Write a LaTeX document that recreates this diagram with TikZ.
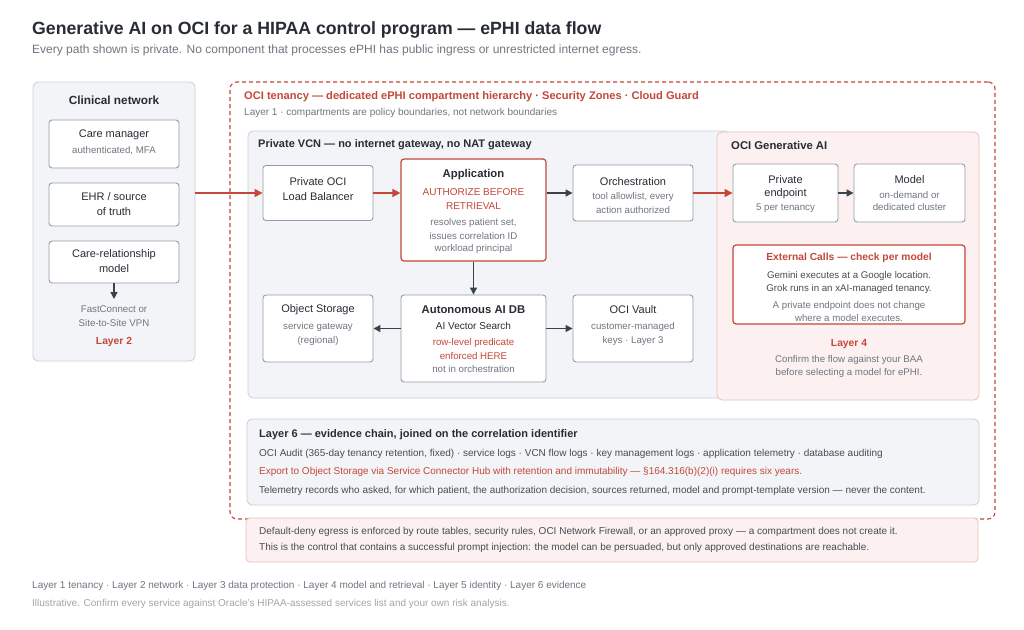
\documentclass[tikz,border=0pt]{standalone}
\usepackage{fontspec}
\setmainfont{Liberation Sans}
\usetikzlibrary{arrows.meta}
\definecolor{cred}{RGB}{196,72,58}
\definecolor{tdark}{RGB}{40,44,52}
\definecolor{tgray}{RGB}{112,118,128}
\definecolor{tlight}{RGB}{160,166,174}
\definecolor{boxc}{RGB}{150,156,166}
\definecolor{panelf}{RGB}{242,244,247}
\definecolor{panelb}{RGB}{202,207,214}
\definecolor{aif}{RGB}{252,241,240}
\definecolor{aib}{RGB}{234,192,186}
\definecolor{darr}{RGB}{58,66,78}
\begin{document}
\begin{tikzpicture}[x=1pt,y=-1pt,
  box/.style={draw=boxc, fill=white, rounded corners=3, line width=0.9, inner sep=0},
  redbox/.style={draw=cred, fill=white, rounded corners=3, line width=1.2, inner sep=0},
  panel/.style={draw=panelb, fill=panelf, rounded corners=5, line width=0.8, inner sep=0},
  aipanel/.style={draw=aib, fill=aif, rounded corners=5, line width=0.8, inner sep=0},
  tm/.style={font=\fontsize{11}{13}\selectfont, text=tdark, inner sep=0},
  ts/.style={font=\fontsize{9.7}{11}\selectfont, text=tgray, inner sep=0},
  tl/.style={font=\fontsize{10}{12}\selectfont, text=tgray, inner sep=0},
  tsr/.style={font=\fontsize{9.7}{11}\selectfont, text=cred, inner sep=0},
  tb/.style={font=\bfseries\fontsize{11.3}{13}\selectfont, text=tdark, inner sep=0},
  tbr/.style={font=\bfseries\fontsize{10.3}{12}\selectfont, text=cred, inner sep=0},
  rarrow/.style={draw=cred, line width=1.5, -{Triangle[length=8,width=8]}},
  darrow/.style={draw=darr, line width=1.3, -{Triangle[length=7,width=7]}},
  lft/.style={anchor=west}
]
\useasboundingbox[fill=white] (0,0) rectangle (1024,629);

% title
\node[lft, font=\bfseries\fontsize{17.7}{20}\selectfont, text=tdark, inner sep=0] (title) at (32,30) {Generative AI on OCI for a HIPAA control program — ePHI data flow};
\node[lft, font=\fontsize{12}{14}\selectfont, text=tgray, inner sep=0] (subtitle) at (32,50) {Every path shown is private. No component that processes ePHI has public ingress or unrestricted internet egress.};

% clinical network
\node[panel, minimum width=162, minimum height=279] (clin) at (114,221.5) {};
\node[tb, font=\bfseries\fontsize{11.8}{13}\selectfont] (clint) at (114,100) {Clinical network};
\node[box, minimum width=130, minimum height=48] (care) at (114,144) {};
\node[tm] (caret) at (114,135) {Care manager};
\node[ts] (cares) at (114,151) {authenticated, MFA};
\node[box, minimum width=130, minimum height=43] (ehr) at (114,204.5) {};
\node[tm] (ehrt1) at (114,197) {EHR / source};
\node[tm] (ehrt2) at (114,212) {of truth};
\node[box, minimum width=130, minimum height=42] (cr) at (114,262) {};
\node[tm] (crt1) at (114,255) {Care-relationship};
\node[tm] (crt2) at (114,269) {model};
\coordinate (vpn) at (114,299);
\draw[darrow] (cr.south) -- (vpn);
\node[ts] (fc1) at (114,309) {FastConnect or};
\node[ts] (fc2) at (114,323) {Site-to-Site VPN};
\node[tbr] (l2) at (114,342) {Layer 2};

% tenancy
\node[draw=cred, dashed, dash pattern=on 4pt off 3pt, line width=1.1, rounded corners=7, minimum width=765, minimum height=437, inner sep=0] (ten) at (612.5,300.5) {};
\node[lft, font=\bfseries\fontsize{11.1}{13}\selectfont, text=cred, inner sep=0] (tent) at (244,97) {OCI tenancy — dedicated ePHI compartment hierarchy · Security Zones · Cloud Guard};
\node[lft, tl] (tens) at (244,113) {Layer 1 · compartments are policy boundaries, not network boundaries};

% VCN
\node[panel, minimum width=482, minimum height=267] (vcn) at (489,264.5) {};
\node[lft, tb, font=\bfseries\fontsize{11}{13}\selectfont] (vcnt) at (258,145) {Private VCN — no internet gateway, no NAT gateway};

% Gen AI
\node[aipanel, minimum width=262, minimum height=268] (genai) at (848,266) {};
\node[lft, tb] (genait) at (731,145) {OCI Generative AI};

% row 1
\node[box, minimum width=110, minimum height=55] (lb) at (318,193) {};
\node[tm] (lbt1) at (318,182) {Private OCI};
\node[tm] (lbt2) at (318,197) {Load Balancer};

\node[redbox, minimum width=145, minimum height=102] (app) at (473.5,210) {};
\node[tb] (appt) at (473.5,175) {Application};
\node[tm, font=\fontsize{10}{12}\selectfont, text=cred] (appr1) at (473.5,192) {AUTHORIZE BEFORE};
\node[tm, font=\fontsize{10}{12}\selectfont, text=cred] (appr2) at (473.5,206) {RETRIEVAL};
\node[ts] (apps1) at (473.5,223) {resolves patient set,};
\node[ts] (apps2) at (473.5,236) {issues correlation ID};
\node[ts] (apps3) at (473.5,249) {workload principal};

\node[box, minimum width=120, minimum height=56] (orch) at (633,193) {};
\node[tm] (orcht) at (633,182) {Orchestration};
\node[ts] (orchs1) at (633,197) {tool allowlist, every};
\node[ts] (orchs2) at (633,210) {action authorized};

\node[box, minimum width=105, minimum height=58] (pe) at (785.5,193) {};
\node[tm] (pet1) at (785.5,180) {Private};
\node[tm] (pet2) at (785.5,194) {endpoint};
\node[ts] (pes) at (785.5,208) {5 per tenancy};

\node[box, minimum width=111, minimum height=58] (model) at (909.5,193) {};
\node[tm] (modelt) at (909.5,180) {Model};
\node[ts] (models1) at (909.5,195) {on-demand or};
\node[ts] (models2) at (909.5,207) {dedicated cluster};

\node[redbox, minimum width=232, minimum height=79] (ext) at (849,284.5) {};
\node[tbr] (extt) at (849,258) {External Calls — check per model};
\node[ts, text=tdark!85] (ext1) at (849,276) {Gemini executes at a Google location.};
\node[ts, text=tdark!85] (ext2) at (849,289) {Grok runs in an xAI-managed tenancy.};
\node[ts] (ext3) at (849,306) {A private endpoint does not change};
\node[ts] (ext4) at (849,318) {where a model executes.};
\node[tbr] (l4) at (849,344) {Layer 4};
\node[ts] (l4a) at (849,360) {Confirm the flow against your BAA};
\node[ts] (l4b) at (849,373) {before selecting a model for ePHI.};

% row 2
\node[box, minimum width=110, minimum height=67] (objs) at (318,328.5) {};
\node[tm] (objst) at (318,310) {Object Storage};
\node[ts] (objs1) at (318,327) {service gateway};
\node[ts] (objs2) at (318,341) {(regional)};

\node[box, minimum width=145, minimum height=87] (db) at (473.5,338.5) {};
\node[tb] (dbt) at (473.5,310) {Autonomous AI DB};
\node[tm, font=\fontsize{10}{12}\selectfont] (dbv) at (473.5,326) {AI Vector Search};
\node[tsr] (dbr1) at (473.5,343) {row-level predicate};
\node[tsr] (dbr2) at (473.5,356) {enforced HERE};
\node[ts] (dbs) at (473.5,369) {not in orchestration};

\node[box, minimum width=120, minimum height=67] (vault) at (633,328.5) {};
\node[tm] (vaultt) at (633,310) {OCI Vault};
\node[ts] (vault1) at (633,327) {customer-managed};
\node[ts] (vault2) at (633,341) {keys · Layer 3};

% connectors
\draw[rarrow] (clin.east |- lb.west) -- (lb.west);
\draw[rarrow] (lb.east) -- (lb.east -| app.west);
\draw[darrow] (app.east |- orch.west) -- (orch.west);
\draw[rarrow] (orch.east) -- (pe.west);
\draw[darrow] (pe.east) -- (model.west);
\draw[darrow] (app.south) -- (db.north);
\draw[darrow] (db.west |- objs.east) -- (objs.east);
\draw[darrow] (db.east |- vault.west) -- (vault.west);

% layer 6
\node[panel, minimum width=732, minimum height=86] (l6) at (613,462) {};
\node[lft, tb, font=\bfseries\fontsize{11}{13}\selectfont] (l6t) at (259,435) {Layer 6 — evidence chain, joined on the correlation identifier};
\node[lft, tl, text=tdark!85] (l6a) at (259,454) {OCI Audit (365-day tenancy retention, fixed) · service logs · VCN flow logs · key management logs · application telemetry · database auditing};
\node[lft, tl, text=cred] (l6b) at (259,472) {Export to Object Storage via Service Connector Hub with retention and immutability — §164.316(b)(2)(i) requires six years.};
\node[lft, tl, text=tdark!85] (l6c) at (259,491) {Telemetry records who asked, for which patient, the authorization decision, sources returned, model and prompt-template version — never the content.};

% bottom note
\node[draw=aib, fill=aif, rounded corners=4, line width=0.8, minimum width=732, minimum height=44, inner sep=0] (note) at (612,540) {};
\node[lft, tl, text=tdark!85] (note1) at (259,532) {Default-deny egress is enforced by route tables, security rules, OCI Network Firewall, or an approved proxy — a compartment does not create it.};
\node[lft, tl, text=tdark!85] (note2) at (259,548) {This is the control that contains a successful prompt injection: the model can be persuaded, but only approved destinations are reachable.};

% footer
\node[lft, tl] (foot1) at (32,586) {Layer 1 tenancy · Layer 2 network · Layer 3 data protection · Layer 4 model and retrieval · Layer 5 identity · Layer 6 evidence};
\node[lft, tl, text=tlight] (foot2) at (32,604) {Illustrative. Confirm every service against Oracle's HIPAA-assessed services list and your own risk analysis.};
\end{tikzpicture}
\end{document}
